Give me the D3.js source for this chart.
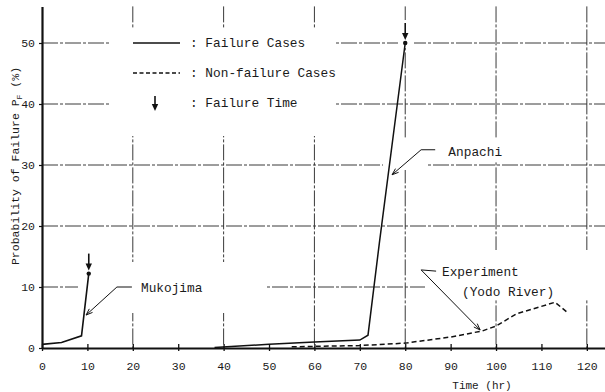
<!DOCTYPE html>
<html>
<head>
<meta charset="utf-8">
<script src="https://cdn.jsdelivr.net/npm/d3@7"></script>
<style>
  html, body { margin: 0; padding: 0; background: #fff; }
  svg { display: block; }
  text { font-family: "Liberation Mono", "DejaVu Sans Mono", monospace; fill: #1a1a1a; }
</style>
</head>
<body>
<svg id="chart" width="605" height="392"></svg>
<script>
// Probability of failure (%) against time (hr)
const mukojimaTime = [0, 4.3, 8.7, 10.3];
const mukojimaProb = [0.6, 0.9, 2.0, 12.2];

const anpachiTime = [38, 50, 60, 70, 71.8, 74.3, 80];
const anpachiProb = [0.1, 0.6, 1.0, 1.3, 2.1, 17.2, 50];

const experimentTime = [55, 70, 80, 83, 90, 97, 100, 104.5, 113, 115.6];
const experimentProb = [0.2, 0.4, 0.8, 1.1, 1.8, 2.8, 3.6, 5.6, 7.5, 5.9];

// failure times (arrow above the last point of each failure case)
const failureTimes = [10.3, 80];
const failureProbs = [12.2, 50];

const xTicks = [0, 10, 20, 30, 40, 50, 60, 70, 80, 90, 100, 110, 120];
const yTicks = [0, 10, 20, 30, 40, 50];
const xGrid = [20, 40, 60, 80, 100, 120];
const yGrid = [10, 20, 30, 40, 50];

const legendLabels = [": Failure Cases", ": Non-failure Cases", ": Failure Time"];

const svg = d3.select("#chart");
const x = d3.scaleLinear().domain([0, 124]).range([42, 605]);
const y = d3.scaleLinear().domain([0, 56]).range([348, 6.4]);

const gridStyle = g => g.attr("stroke", "#3a3a3a").attr("stroke-width", 1)
  .attr("stroke-dasharray", "16,2,3,2").attr("fill", "none");

// grid
const grid = svg.append("g");
grid.selectAll(".hg").data(yGrid).join("line")
  .attr("x1", x(0)).attr("x2", 605)
  .attr("y1", d => y(d)).attr("y2", d => y(d))
  .call(gridStyle);
grid.selectAll(".vg").data(xGrid).join("line")
  .attr("x1", d => x(d)).attr("x2", d => x(d))
  .attr("y1", y(56)).attr("y2", y(0))
  .call(gridStyle);

// blank areas kept clear of the grid behind legend and labels
const clear = [
  [110, 28, 226, 108],
  [398, 20, 16, 28],
  [78, 262, 188, 51],
  [383, 138, 129, 24],
  [383, 160, 45, 10],
  [425, 250, 180, 50]
];
svg.append("g").selectAll("rect").data(clear).join("rect")
  .attr("x", d => d[0]).attr("y", d => d[1])
  .attr("width", d => d[2]).attr("height", d => d[3])
  .attr("fill", "#fff");

// axes
const xAxis = d3.axisBottom(x).tickValues(xTicks).tickSizeInner(4).tickSizeOuter(0).tickPadding(10);
const gx = svg.append("g").attr("transform", `translate(0,${y(0)})`).call(xAxis);
gx.select(".domain").attr("stroke", "#111").attr("stroke-width", 2.2);
gx.selectAll(".tick line").attr("y1", -4).attr("y2", 3).attr("stroke", "#111").attr("stroke-width", 1.3);
gx.selectAll(".tick text").attr("font-size", 11.5).attr("font-family", "Liberation Mono").attr("fill", "#1a1a1a");

const yAxis = d3.axisLeft(y).tickValues(yTicks).tickSizeInner(3).tickSizeOuter(0).tickPadding(4);
const gy = svg.append("g").attr("transform", `translate(${x(0)},0)`).call(yAxis);
gy.select(".domain").attr("stroke", "#111").attr("stroke-width", 2.2);
gy.selectAll(".tick line").attr("stroke", "#111").attr("stroke-width", 1.2);
gy.selectAll(".tick text").attr("font-size", 11.5).attr("font-family", "Liberation Mono").attr("fill", "#1a1a1a");

// axis titles
svg.append("text").attr("x", 482).attr("y", 389).attr("text-anchor", "middle")
  .attr("font-size", 11).text("Time (hr)");
const yt = svg.append("text")
  .attr("transform", `translate(19,${166}) rotate(-90)`)
  .attr("text-anchor", "middle").attr("font-size", 11.5);
yt.append("tspan").text("Probability of Failure P");
yt.append("tspan").attr("font-size", 8).attr("dy", 3).text("F");
yt.append("tspan").attr("dy", -3).text(" (%)");

// curves
const line = d3.line().x(d => x(d[0])).y(d => y(d[1]));
const pair = (t, p) => t.map((v, i) => [v, p[i]]);

svg.append("path").datum(pair(mukojimaTime, mukojimaProb))
  .attr("d", line).attr("fill", "none").attr("stroke", "#111").attr("stroke-width", 1.6);
svg.append("path").datum(pair(anpachiTime, anpachiProb))
  .attr("d", line).attr("fill", "none").attr("stroke", "#111").attr("stroke-width", 1.5);
svg.append("path").datum(pair(experimentTime, experimentProb))
  .attr("d", line).attr("fill", "none").attr("stroke", "#111").attr("stroke-width", 1.5)
  .attr("stroke-dasharray", "5,3");

// failure points and arrows
svg.selectAll(".fp").data(failureTimes).join("circle")
  .attr("cx", d => x(d)).attr("cy", (d, i) => y(failureProbs[i])).attr("r", 2.2).attr("fill", "#111");

function downArrow(g, cx, yTop, yTip) {
  g.append("line").attr("x1", cx).attr("x2", cx).attr("y1", yTop).attr("y2", yTip - 5)
    .attr("stroke", "#111").attr("stroke-width", 1.6);
  g.append("path").attr("d", `M${cx - 3.2},${yTip - 7}L${cx + 3.2},${yTip - 7}L${cx},${yTip}Z`).attr("fill", "#111");
}
const arrows = svg.append("g");
failureTimes.forEach((t, i) => {
  const tip = y(failureProbs[i]) - 3;
  downArrow(arrows, x(t), tip - 17, tip);
});

// legend
const legend = svg.append("g");
const rowY = [43, 73, 103];
legend.append("line").attr("x1", 133).attr("x2", 180).attr("y1", rowY[0]).attr("y2", rowY[0])
  .attr("stroke", "#111").attr("stroke-width", 1.4);
legend.append("line").attr("x1", 133).attr("x2", 180).attr("y1", rowY[1]).attr("y2", rowY[1])
  .attr("stroke", "#111").attr("stroke-width", 1.4).attr("stroke-dasharray", "4,2.5");
downArrow(legend, 155, 96, 111);
legend.selectAll("text").data(legendLabels).join("text")
  .attr("x", 190).attr("y", (d, i) => rowY[i] + 4).attr("font-size", 12.8).text(d => d);

// callouts
const callouts = [
  { label: ["Mukojima"], tip: [9.7, 5.4], elbow: [16.5, 10], end: [19.8, 10], text: [[21.8, 9.8]] },
  { label: ["Anpachi"], tip: [77.1, 28.4], elbow: [83.5, 32.5], end: [86.6, 32.5], text: [[89.5, 32.2]] },
  { label: ["Experiment", "(Yodo River)"], tip: [96.5, 2.95], elbow: [83.5, 12.8], end: [86.8, 12.6], text: [[88.1, 12.4], [92.5, 9.2]] }
];
const co = svg.append("g");
callouts.forEach(c => {
  const tx = x(c.tip[0]), ty = y(c.tip[1]);
  const ex = x(c.elbow[0]), ey = y(c.elbow[1]);
  co.append("path").attr("d", `M${x(c.end[0])},${y(c.end[1])}L${ex},${ey}L${tx},${ty}`)
    .attr("fill", "none").attr("stroke", "#111").attr("stroke-width", 1);
  const ang = Math.atan2(ey - ty, ex - tx);
  const h = 7, w = 0.35;
  co.append("path")
    .attr("d", `M${tx + h * Math.cos(ang - w)},${ty + h * Math.sin(ang - w)}L${tx},${ty}L${tx + h * Math.cos(ang + w)},${ty + h * Math.sin(ang + w)}`)
    .attr("fill", "none").attr("stroke", "#111").attr("stroke-width", 1);
  c.label.forEach((s, i) => {
    co.append("text").attr("x", x(c.text[i][0])).attr("y", y(c.text[i][1]) + 4)
      .attr("font-size", 12.8).text(s);
  });
});
</script>
</body>
</html>
